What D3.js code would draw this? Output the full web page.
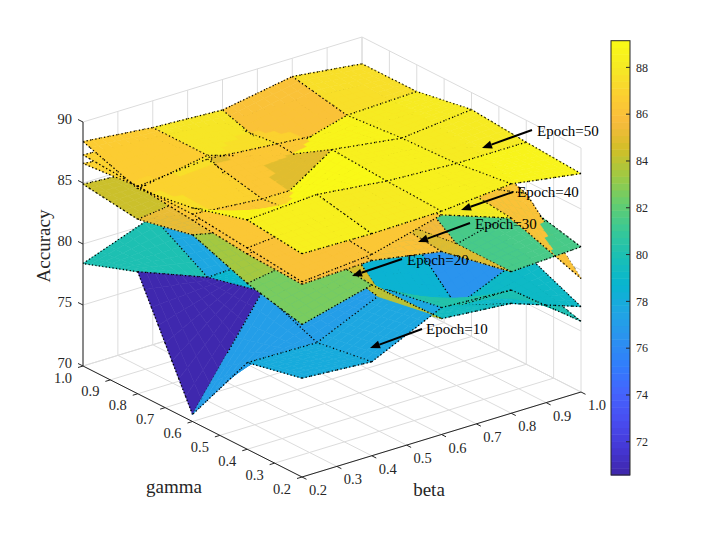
<!DOCTYPE html>
<html>
<head>
<meta charset="utf-8">
<script src="https://cdn.jsdelivr.net/npm/d3@7"></script>
<style>
  body { margin: 0; background: #fff; }
  svg { display: block; }
  text { font-family: "Liberation Serif", "Times New Roman", serif; fill: #262626; }
</style>
</head>
<body>
<svg id="chart" width="712" height="535"></svg>
<script>
// 网格取值
const betaVals = [0.2, 0.4, 0.6, 0.8, 1.0];
const gammaVals = [0.2, 0.4, 0.6, 0.8, 1.0];
const epochLabels = ['Epoch=10', 'Epoch=20', 'Epoch=30', 'Epoch=40', 'Epoch=50'];
// 每个 epoch 的准确率: 行 = beta, 列 = gamma
const acc10 = [
    [78.1, 77.1, 70.58, 80.0, 78.4],
    [77.7, 77.0, 78.9, 77.8, 80.5],
    [80.4, 79.6, 77.5, 78.0, 79.0],
    [80.1, 76.5, 77.0, 78.0, 78.5],
    [75.8, 77.1, 77.5, 77.0, 78.0],
];
const acc20 = [
    [82.5, 83.6, 85.3, 84.3, 84.9],
    [84.0, 84.5, 84.0, 85.0, 84.5],
    [79.5, 78.5, 83.0, 84.0, 84.5],
    [79.0, 76.5, 81.0, 83.0, 83.5],
    [77.0, 79.0, 80.0, 82.0, 83.0],
];
const acc30 = [
    [85.8, 86.0, 86.5, 87.0, 86.6],
    [86.0, 86.5, 85.5, 86.0, 86.0],
    [85.0, 85.5, 86.0, 85.5, 85.5],
    [81.6, 81.6, 85.0, 85.5, 85.5],
    [81.9, 83.0, 84.5, 85.0, 85.0],
];
const acc40 = [
    [86.0, 86.5, 87.0, 87.0, 87.3],
    [86.5, 87.0, 86.5, 87.5, 87.0],
    [88.0, 87.0, 86.5, 87.0, 86.5],
    [86.0, 86.5, 87.0, 86.5, 86.5],
    [79.3, 84.0, 85.5, 86.0, 86.0],
];
const acc50 = [
    [88.3, 88.8, 87.5, 86.8, 88.4],
    [88.2, 89.14, 85.0, 87.8, 87.8],
    [88.3, 88.5, 88.8, 86.0, 87.5],
    [88.8, 88.2, 88.0, 87.6, 88.5],
    [87.9, 88.2, 88.6, 87.8, 87.8],
];
const accList = [acc10, acc20, acc30, acc40, acc50];
const axisTicks = [0.2, 0.3, 0.4, 0.5, 0.6, 0.7, 0.8, 0.9, 1.0];
const zTicks = [70, 75, 80, 85, 90];
const cbTicks = [72, 74, 76, 78, 80, 82, 84, 86, 88];
const colorLimits = [70.58, 89.14];
// 标注: 文字起点与箭头 (屏幕坐标)
const notePos = [
    { tx: 426, ty: 329, x1: 422, y1: 329, x2: 370, y2: 348 },
    { tx: 407, ty: 260, x1: 402, y1: 259, x2: 352, y2: 276 },
    { tx: 475, ty: 224, x1: 470, y1: 223, x2: 418, y2: 242 },
    { tx: 517, ty: 192, x1: 513, y1: 192, x2: 461, y2: 210 },
    { tx: 537, ty: 131, x1: 532, y1: 130, x2: 482, y2: 148 },
];

// parula 色图
const parulaStops = ['#3e26a8', '#4537d5', '#484df0', '#4563fd', '#327cfc', '#2b91ef', '#20a5e3',
    '#08b5d0', '#19bfb6', '#37c897', '#64cd6f', '#9dc943', '#d1bf27', '#f8ba3d', '#fccf30',
    '#f5e924', '#f9fb15'];
const parula = d3.scaleLinear()
    .domain(parulaStops.map((d, i) => i / (parulaStops.length - 1)))
    .range(parulaStops)
    .interpolate(d3.interpolateRgb);
const cNorm = d3.scaleLinear().domain(colorLimits).range([0, 1]).clamp(true);
// 与 MATLAB 一样取 64 级
const colorOf = (v) => {
    const idx = Math.min(63, Math.floor(cNorm(v) * 64));
    return parula((idx + 0.5) / 64);
};

const svg = d3.select('#chart');

// 三维 -> 屏幕 (正交投影)
const uScale = d3.scaleLinear().domain([0.2, 1.0]).range([0, 1]);
const vScale = d3.scaleLinear().domain([0.2, 1.0]).range([0, 1]);
const wScale = d3.scaleLinear().domain([70, 90]).range([0, 1]);
const origin = [302, 477];
const eU = [279, -85], eV = [-219, -111], eW = [0, -244];
const viewDir = [
    eV[0] * eW[1] - eW[0] * eV[1],
    eW[0] * eU[1] - eU[0] * eW[1],
    eU[0] * eV[1] - eV[0] * eU[1],
];
const project = (b, g, z) => {
    const u = uScale(b), v = vScale(g), w = wScale(z);
    return [origin[0] + eU[0] * u + eV[0] * v + eW[0] * w,
            origin[1] + eU[1] * u + eV[1] * v + eW[1] * w];
};
const depthOf = (b, g, z) => viewDir[0] * uScale(b) + viewDir[1] * vScale(g) + viewDir[2] * wScale(z);

const gridColor = '#dcdcdc';
const axisColor = '#262626';
const line = d3.line();

// 背景网格: 底面 + 两个背面
const back = svg.append('g');
axisTicks.forEach((t) => {
    back.append('path').attr('d', line([project(t, 0.2, 70), project(t, 1.0, 70)]));
    back.append('path').attr('d', line([project(0.2, t, 70), project(1.0, t, 70)]));
    back.append('path').attr('d', line([project(t, 1.0, 70), project(t, 1.0, 90)]));
    back.append('path').attr('d', line([project(1.0, t, 70), project(1.0, t, 90)]));
});
zTicks.forEach((z) => {
    back.append('path').attr('d', line([project(0.2, 1.0, z), project(1.0, 1.0, z), project(1.0, 0.2, z)]));
});
back.selectAll('path').attr('fill', 'none').attr('stroke', gridColor).attr('stroke-width', 1);

// 曲面: 细分后按深度排序绘制
const N = 8;
const pieces = [];
const sample = (Z, fi, fj) => {
    const i0 = Math.min(Math.floor(fi), betaVals.length - 2), j0 = Math.min(Math.floor(fj), gammaVals.length - 2);
    const a = fi - i0, c = fj - j0;
    const z = Z[i0][j0] * (1 - a) * (1 - c) + Z[i0 + 1][j0] * a * (1 - c) +
        Z[i0][j0 + 1] * (1 - a) * c + Z[i0 + 1][j0 + 1] * a * c;
    const b = betaVals[i0] + (betaVals[i0 + 1] - betaVals[i0]) * a;
    const g = gammaVals[j0] + (gammaVals[j0 + 1] - gammaVals[j0]) * c;
    return [b, g, z];
};
accList.forEach((Z) => {
    for (let i = 0; i < betaVals.length - 1; i++) {
        for (let j = 0; j < gammaVals.length - 1; j++) {
            const fill = colorOf(Z[i][j]);
            for (let a = 0; a < N; a++) {
                for (let c = 0; c < N; c++) {
                    const corners = [[a, c], [a + 1, c], [a + 1, c + 1], [a, c + 1]]
                        .map(([p, q]) => sample(Z, i + p / N, j + q / N));
                    pieces.push({
                        kind: 'face',
                        pts: corners.map((d) => project(...d)),
                        depth: d3.mean(corners, (d) => depthOf(...d)),
                        fill,
                    });
                }
            }
        }
    }
    // 网格边 (点线)
    const addEdge = (fi0, fj0, di, dj) => {
        for (let k = 0; k < N; k++) {
            const p0 = sample(Z, fi0 + di * k / N, fj0 + dj * k / N);
            const p1 = sample(Z, fi0 + di * (k + 1) / N, fj0 + dj * (k + 1) / N);
            pieces.push({
                kind: 'edge',
                pts: [project(...p0), project(...p1)],
                depth: (depthOf(...p0) + depthOf(...p1)) / 2 - 1500,
            });
        }
    };
    for (let i = 0; i < betaVals.length; i++) {
        for (let j = 0; j < gammaVals.length - 1; j++) addEdge(i, j, 0, 1);
    }
    for (let j = 0; j < gammaVals.length; j++) {
        for (let i = 0; i < betaVals.length - 1; i++) addEdge(i, j, 1, 0);
    }
});
pieces.sort((p, q) => q.depth - p.depth);

const surf = svg.append('g');
pieces.forEach((p) => {
    if (p.kind === 'face') {
        surf.append('path')
            .attr('d', line(p.pts) + 'Z')
            .attr('fill', p.fill)
            .attr('stroke', p.fill)
            .attr('stroke-width', 0.6)
            .attr('stroke-linejoin', 'round');
    } else {
        surf.append('path')
            .attr('d', line(p.pts))
            .attr('fill', 'none')
            .attr('stroke', '#000')
            .attr('stroke-width', 1.3)
            .attr('stroke-dasharray', '1.3,2.3');
    }
});

// 坐标轴
const axes = svg.append('g');
axes.append('path').attr('d', line([project(0.2, 1.0, 70), project(0.2, 1.0, 90)]));
axes.append('path').attr('d', line([project(0.2, 1.0, 70), project(0.2, 0.2, 70)]));
axes.append('path').attr('d', line([project(0.2, 0.2, 70), project(1.0, 0.2, 70)]));
zTicks.forEach((z) => {
    const [x, y] = project(0.2, 1.0, z);
    axes.append('path').attr('d', line([[x, y], [x - 5, y - 2.5]]));
    axes.append('text').attr('x', x - 11).attr('y', y - 3).attr('dy', '0.35em')
        .attr('text-anchor', 'end').style('font-size', '14.5px').text(z);
});
axisTicks.forEach((t) => {
    const [gx, gy] = project(0.2, t, 70);
    axes.append('path').attr('d', line([[gx, gy], [gx - 5, gy + 1.5]]));
    axes.append('text').attr('x', gx - 20).attr('y', gy + 11.5).attr('dy', '0.35em')
        .attr('text-anchor', 'middle').style('font-size', '14.5px').text(t.toFixed(1));
    const [bx, by] = project(t, 0.2, 70);
    axes.append('path').attr('d', line([[bx, by], [bx + 4.5, by + 2.3]]));
    axes.append('text').attr('x', bx + 16).attr('y', by + 13).attr('dy', '0.35em')
        .attr('text-anchor', 'middle').style('font-size', '14.5px').text(t.toFixed(1));
});
axes.selectAll('path').attr('fill', 'none').attr('stroke', axisColor).attr('stroke-width', 1);

svg.append('text').attr('transform', 'translate(50,246) rotate(-90)')
    .attr('text-anchor', 'middle').style('font-size', '19px').text('Accuracy');
svg.append('text').attr('x', 174).attr('y', 493)
    .attr('text-anchor', 'middle').style('font-size', '19px').text('gamma');
svg.append('text').attr('x', 429).attr('y', 496)
    .attr('text-anchor', 'middle').style('font-size', '19px').text('beta');

// 标注箭头
const notes = svg.append('g');
notePos.forEach((p, k) => {
    const ang = Math.atan2(p.y2 - p.y1, p.x2 - p.x1);
    const len = 10, half = 4;
    const bx = p.x2 - len * Math.cos(ang), by = p.y2 - len * Math.sin(ang);
    notes.append('path').attr('d', line([[p.x1, p.y1], [bx, by]]))
        .attr('stroke', '#000').attr('stroke-width', 2);
    notes.append('path')
        .attr('d', line([[p.x2, p.y2],
            [bx + half * Math.sin(ang), by - half * Math.cos(ang)],
            [bx - half * Math.sin(ang), by + half * Math.cos(ang)]]) + 'Z')
        .attr('fill', '#000');
    notes.append('text').attr('x', p.tx).attr('y', p.ty).attr('dy', '0.35em')
        .style('font-size', '15px').style('fill', '#000').text(epochLabels[k]);
});

// 色条
const cbX = 611, cbW = 19;
const cbY = d3.scaleLinear().domain(colorLimits).range([475, 40.7]);
const cb = svg.append('g');
const levels = d3.range(64);
const levelV = d3.scaleLinear().domain([0, 64]).range(colorLimits);
cb.selectAll('rect.band')
    .data(levels)
    .enter()
    .append('rect')
    .attr('class', 'band')
    .attr('x', cbX)
    .attr('width', cbW)
    .attr('y', (d) => cbY(levelV(d + 1)))
    .attr('height', (d) => cbY(levelV(d)) - cbY(levelV(d + 1)) + 0.5)
    .attr('fill', (d) => parula((d + 0.5) / 64));
cb.append('rect').attr('x', cbX).attr('y', cbY(colorLimits[1])).attr('width', cbW)
    .attr('height', cbY(colorLimits[0]) - cbY(colorLimits[1]))
    .attr('fill', 'none').attr('stroke', axisColor).attr('stroke-width', 1);
cbTicks.forEach((t) => {
    cb.append('path').attr('d', line([[cbX + cbW - 4, cbY(t)], [cbX + cbW, cbY(t)]]))
        .attr('stroke', axisColor).attr('stroke-width', 1);
    cb.append('text').attr('x', cbX + cbW + 6).attr('y', cbY(t)).attr('dy', '0.35em')
        .style('font-size', '12px').text(t);
});
</script>
</body>
</html>
